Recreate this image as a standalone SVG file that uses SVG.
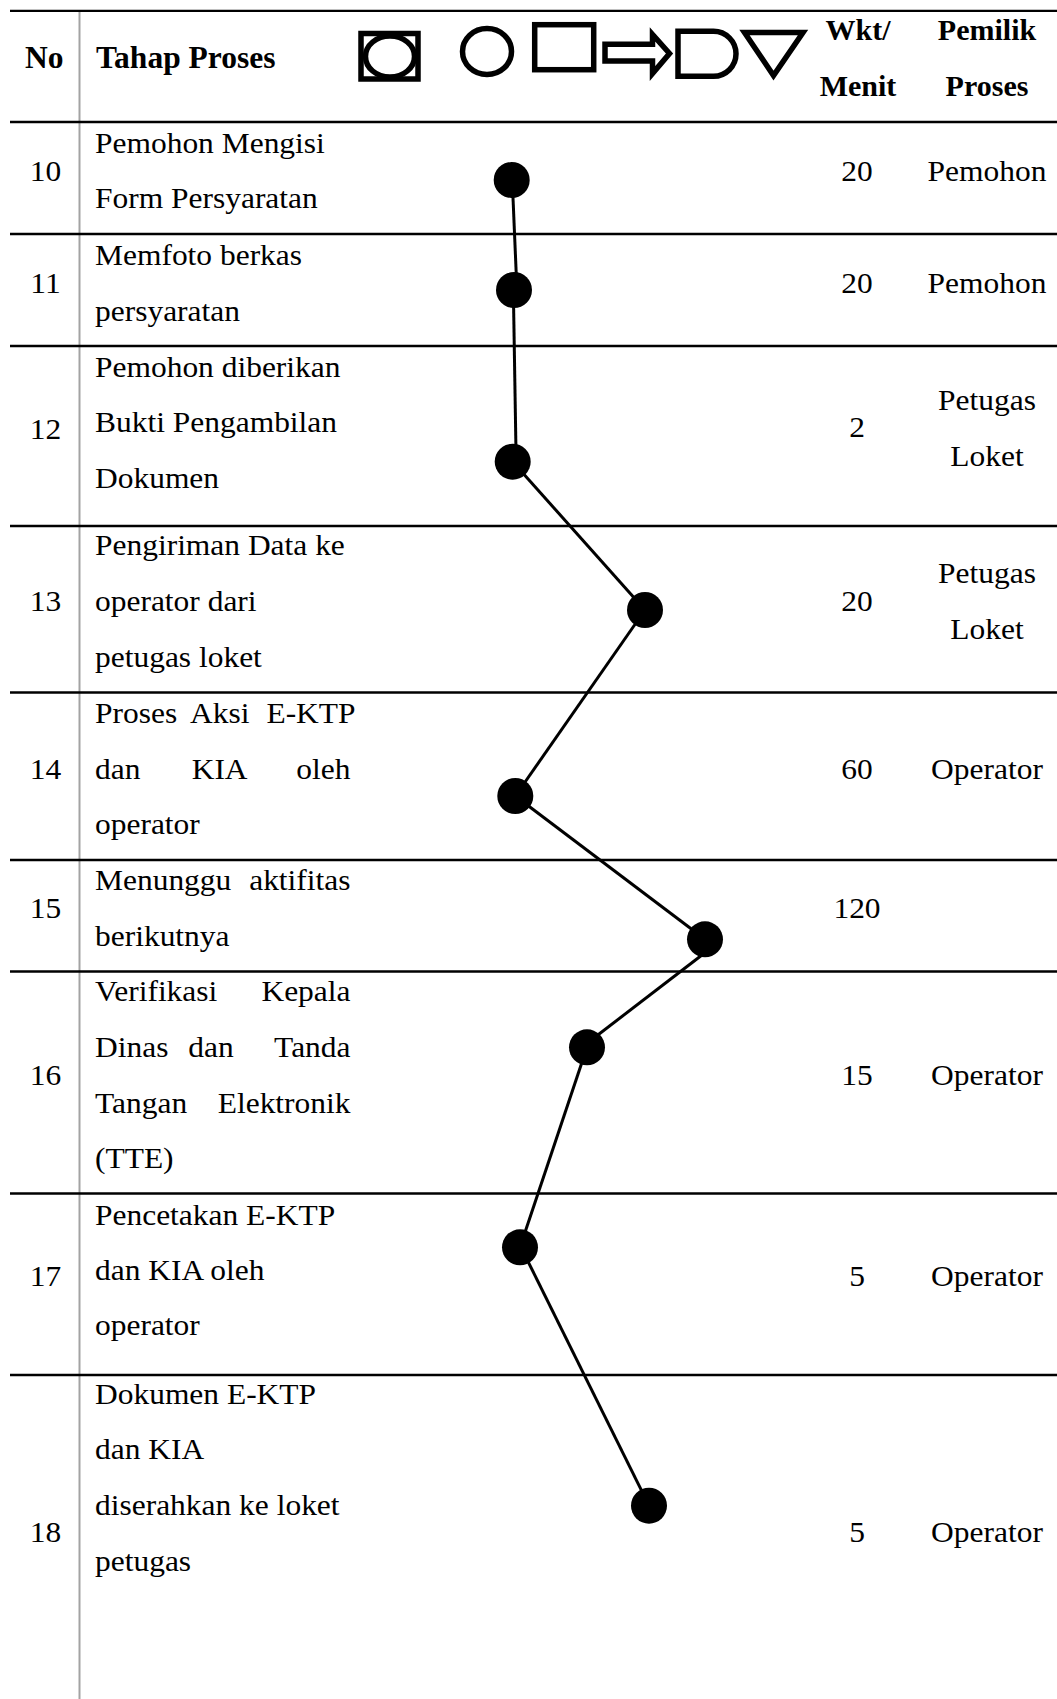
<svg xmlns="http://www.w3.org/2000/svg" width="1057" height="1699" viewBox="0 0 1057 1699">
  <style>
    text { font-family: "Liberation Serif", "Times New Roman", serif; fill: #000; }
    .b { font-size: 29px; }
    .hd { font-size: 31.5px; font-weight: bold; }
    .hr { font-size: 30px; font-weight: bold; text-anchor: middle; }
    .m { text-anchor: middle; }
    .e { text-anchor: end; }
    .rule { stroke: #000; stroke-width: 2.3; }
    .vrule { stroke: #a3a3a3; stroke-width: 2; }
    .sym { fill: #fff; stroke: #000; stroke-width: 5.5; }
    .dot { fill: #000; }
    .link { stroke: #000; stroke-width: 3; fill: none; }
  </style>

  <rect width="1057" height="1699" fill="#fff"/>

  <!-- table rules -->
  <g id="grid">
    <line class="vrule" x1="79.5" y1="10" x2="79.5" y2="1699"/>
    <line class="rule" x1="10" y1="10.8" x2="1057" y2="10.8" stroke-width="2.6"/>
    <line class="rule" x1="10" y1="122" x2="1057" y2="122" stroke-width="2.6"/>
    <line class="rule" x1="10" y1="234" x2="1057" y2="234"/>
    <line class="rule" x1="10" y1="346" x2="1057" y2="346"/>
    <line class="rule" x1="10" y1="526" x2="1057" y2="526"/>
    <line class="rule" x1="10" y1="692.5" x2="1057" y2="692.5"/>
    <line class="rule" x1="10" y1="860" x2="1057" y2="860"/>
    <line class="rule" x1="10" y1="971.5" x2="1057" y2="971.5"/>
    <line class="rule" x1="10" y1="1193.5" x2="1057" y2="1193.5"/>
    <line class="rule" x1="10" y1="1375" x2="1057" y2="1375"/>
  </g>

  <!-- header -->
  <g id="header">
    <text class="hd" x="25" y="68">No</text>
    <text class="hd" x="96" y="68">Tahap Proses</text>
    <text class="hr" x="858" y="40">Wkt/</text>
    <text class="hr" x="858" y="95.5">Menit</text>
    <text class="hr" x="987" y="40">Pemilik</text>
    <text class="hr" x="987" y="95.5">Proses</text>
    <g id="symbols">
      <!-- storage / inspection frame -->
      <rect class="sym" x="361" y="33.5" width="57" height="45.5"/>
      <ellipse class="sym" cx="390" cy="56.5" rx="24.5" ry="20.5" stroke-width="5"/>
      <!-- operation -->
      <ellipse class="sym" cx="487" cy="51.5" rx="24.5" ry="23" stroke-width="5"/>
      <!-- inspection -->
      <rect class="sym" x="534.7" y="24.7" width="59" height="45" stroke-width="6"/>
      <!-- transport -->
      <polygon class="sym" stroke-width="5" stroke-linejoin="miter" points="605,44.3 652.5,44.3 652.5,34.5 669.5,53.5 652.5,73.5 652.5,61 605,61"/>
      <!-- delay -->
      <path class="sym" stroke-width="6" d="M678,31.3 H713.5 A22.5,22.5 0 0 1 713.5,76.3 H678 Z"/>
      <!-- storage -->
      <polygon class="sym" stroke-width="6" stroke-linejoin="miter" points="744.5,32.5 803,32.5 773.5,75.5"/>
    </g>
  </g>

  <!-- connectors between the process dots -->
  <g id="connectors">
    <line class="link" x1="512.5" y1="186" x2="516.5" y2="280"/>
    <line class="link" x1="513.5" y1="300" x2="516" y2="452"/>
    <line class="link" x1="512.7" y1="461.7" x2="645" y2="610"/>
    <line class="link" x1="645" y1="610" x2="515.3" y2="796"/>
    <line class="link" x1="515.3" y1="796" x2="705" y2="939.3"/>
    <line class="link" x1="702" y1="955" x2="590" y2="1041"/>
    <line class="link" x1="587" y1="1047.3" x2="520" y2="1247.3"/>
    <line class="link" x1="521" y1="1247.3" x2="649" y2="1505.7"/>
  </g>

  <!-- row 10 -->
  <g id="row10">
    <g transform="translate(45.5,0) scale(1.085,1)"><text class="b m" x="0" y="181">10</text></g>
    <g transform="translate(95,0) scale(1.085,1)">
      <text class="b" x="0" y="153">Pemohon Mengisi</text>
      <text class="b" x="0" y="208.5">Form Persyaratan</text>
    </g>
    <circle class="dot" cx="511.7" cy="180" r="18"/>
    <g transform="translate(857,0) scale(1.085,1)"><text class="b m" x="0" y="181">20</text></g>
    <g transform="translate(987,0) scale(1.085,1)"><text class="b m" x="0" y="181">Pemohon</text></g>
  </g>

  <!-- row 11 -->
  <g id="row11">
    <g transform="translate(45.5,0) scale(1.085,1)"><text class="b m" x="0" y="293">11</text></g>
    <g transform="translate(95,0) scale(1.085,1)">
      <text class="b" x="0" y="265">Memfoto berkas</text>
      <text class="b" x="0" y="321">persyaratan</text>
    </g>
    <circle class="dot" cx="514" cy="290" r="18"/>
    <g transform="translate(857,0) scale(1.085,1)"><text class="b m" x="0" y="293">20</text></g>
    <g transform="translate(987,0) scale(1.085,1)"><text class="b m" x="0" y="293">Pemohon</text></g>
  </g>

  <!-- row 12 -->
  <g id="row12">
    <g transform="translate(45.5,0) scale(1.085,1)"><text class="b m" x="0" y="439">12</text></g>
    <g transform="translate(95,0) scale(1.085,1)">
      <text class="b" x="0" y="377">Pemohon diberikan</text>
      <text class="b" x="0" y="432.5">Bukti Pengambilan</text>
      <text class="b" x="0" y="488">Dokumen</text>
    </g>
    <circle class="dot" cx="512.7" cy="461.7" r="18"/>
    <g transform="translate(857,0) scale(1.085,1)"><text class="b m" x="0" y="437.5">2</text></g>
    <g transform="translate(987,0) scale(1.085,1)">
      <text class="b m" x="0" y="410">Petugas</text>
      <text class="b m" x="0" y="466">Loket</text>
    </g>
  </g>

  <!-- row 13 -->
  <g id="row13">
    <g transform="translate(45.5,0) scale(1.085,1)"><text class="b m" x="0" y="611.5">13</text></g>
    <g transform="translate(95,0) scale(1.085,1)">
      <text class="b" x="0" y="555.5">Pengiriman Data ke</text>
      <text class="b" x="0" y="611.5">operator dari</text>
      <text class="b" x="0" y="667">petugas loket</text>
    </g>
    <circle class="dot" cx="645" cy="610" r="18"/>
    <g transform="translate(857,0) scale(1.085,1)"><text class="b m" x="0" y="611.5">20</text></g>
    <g transform="translate(987,0) scale(1.085,1)">
      <text class="b m" x="0" y="583.5">Petugas</text>
      <text class="b m" x="0" y="639">Loket</text>
    </g>
  </g>

  <!-- row 14 -->
  <g id="row14">
    <g transform="translate(45.5,0) scale(1.085,1)"><text class="b m" x="0" y="779.5">14</text></g>
    <g transform="translate(95,0) scale(1.085,1)">
      <text class="b" x="0" y="723.5">Proses</text>
      <text class="b" x="87.6" y="723.5">Aksi</text>
      <text class="b" x="158" y="723.5">E-KTP</text>
      <text class="b" x="0" y="779.5">dan</text>
      <text class="b" x="89.1" y="779.5">KIA</text>
      <text class="b e" x="235.5" y="779.5">oleh</text>
      <text class="b" x="0" y="834.5">operator</text>
    </g>
    <circle class="dot" cx="515.3" cy="796" r="18"/>
    <g transform="translate(857,0) scale(1.085,1)"><text class="b m" x="0" y="779.5">60</text></g>
    <g transform="translate(987,0) scale(1.085,1)"><text class="b m" x="0" y="779.5">Operator</text></g>
  </g>

  <!-- row 15 -->
  <g id="row15">
    <g transform="translate(45.5,0) scale(1.085,1)"><text class="b m" x="0" y="918">15</text></g>
    <g transform="translate(95,0) scale(1.085,1)">
      <text class="b" x="0" y="890.5">Menunggu</text>
      <text class="b e" x="235.5" y="890.5">aktifitas</text>
      <text class="b" x="0" y="946">berikutnya</text>
    </g>
    <circle class="dot" cx="705" cy="939.3" r="18"/>
    <g transform="translate(857,0) scale(1.085,1)"><text class="b m" x="0" y="918">120</text></g>
  </g>

  <!-- row 16 -->
  <g id="row16">
    <g transform="translate(45.5,0) scale(1.085,1)"><text class="b m" x="0" y="1085">16</text></g>
    <g transform="translate(95,0) scale(1.085,1)">
      <text class="b" x="0" y="1001.5">Verifikasi</text>
      <text class="b e" x="235.5" y="1001.5">Kepala</text>
      <text class="b" x="0" y="1057">Dinas</text>
      <text class="b" x="86" y="1057">dan</text>
      <text class="b e" x="235.5" y="1057">Tanda</text>
      <text class="b" x="0" y="1113">Tangan</text>
      <text class="b e" x="235.5" y="1113">Elektronik</text>
      <text class="b" x="0" y="1168.5">(TTE)</text>
    </g>
    <circle class="dot" cx="587" cy="1047.3" r="18"/>
    <g transform="translate(857,0) scale(1.085,1)"><text class="b m" x="0" y="1085">15</text></g>
    <g transform="translate(987,0) scale(1.085,1)"><text class="b m" x="0" y="1085">Operator</text></g>
  </g>

  <!-- row 17 -->
  <g id="row17">
    <g transform="translate(45.5,0) scale(1.085,1)"><text class="b m" x="0" y="1286">17</text></g>
    <g transform="translate(95,0) scale(1.085,1)">
      <text class="b" x="0" y="1225">Pencetakan E-KTP</text>
      <text class="b" x="0" y="1280">dan KIA oleh</text>
      <text class="b" x="0" y="1335">operator</text>
    </g>
    <circle class="dot" cx="520" cy="1247.3" r="18"/>
    <g transform="translate(857,0) scale(1.085,1)"><text class="b m" x="0" y="1286">5</text></g>
    <g transform="translate(987,0) scale(1.085,1)"><text class="b m" x="0" y="1286">Operator</text></g>
  </g>

  <!-- row 18 -->
  <g id="row18">
    <g transform="translate(45.5,0) scale(1.085,1)"><text class="b m" x="0" y="1542">18</text></g>
    <g transform="translate(95,0) scale(1.085,1)">
      <text class="b" x="0" y="1404">Dokumen E-KTP</text>
      <text class="b" x="0" y="1459.5">dan KIA</text>
      <text class="b" x="0" y="1515.5">diserahkan ke loket</text>
      <text class="b" x="0" y="1571">petugas</text>
    </g>
    <circle class="dot" cx="649" cy="1505.7" r="18"/>
    <g transform="translate(857,0) scale(1.085,1)"><text class="b m" x="0" y="1542">5</text></g>
    <g transform="translate(987,0) scale(1.085,1)"><text class="b m" x="0" y="1542">Operator</text></g>
  </g>
</svg>
